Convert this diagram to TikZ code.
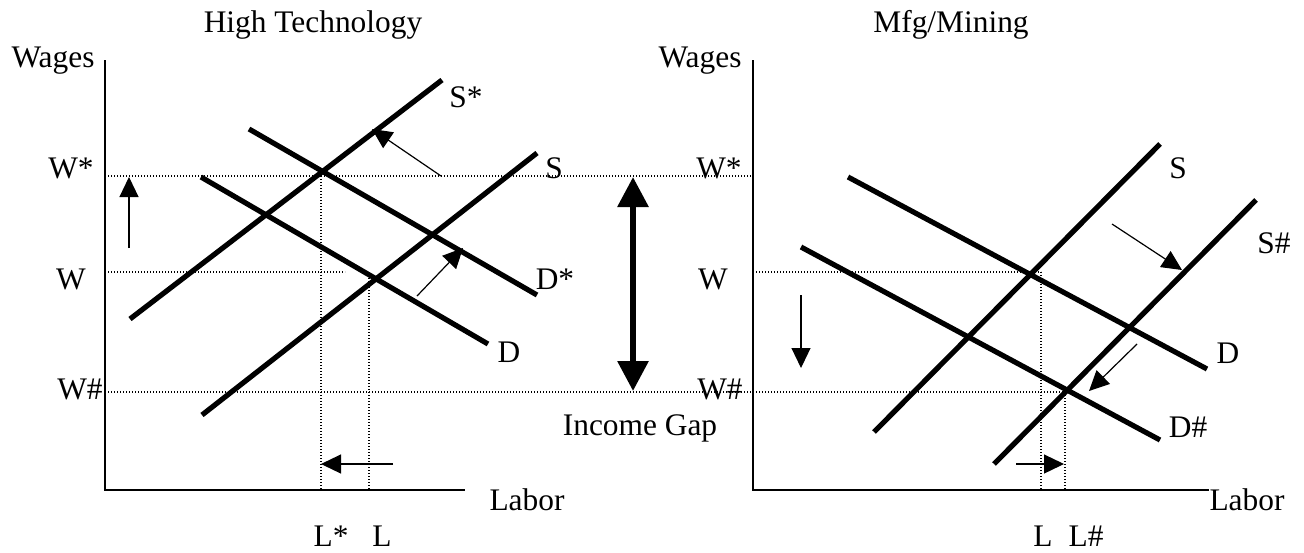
\documentclass[tikz,border=0pt]{standalone}
\usepackage{fontspec}
\setmainfont{Liberation Serif}
\usetikzlibrary{arrows.meta}
\begin{document}
\begin{tikzpicture}[x=0.5pt,y=-0.5pt,
  lbl/.style={font=\fontsize{15.7}{18}\selectfont, inner sep=0pt, anchor=base},
  axisline/.style={line width=1pt},
  curve/.style={line width=2.6pt},
  guide/.style={line width=0.7pt, dash pattern=on 0.7pt off 0.8pt},
  shiftarrow/.style={line width=0.6pt, -{Triangle[length=10pt,width=9.5pt]}},
  gaparrow/.style={line width=3pt, {Triangle[length=15pt,width=15pt]}-{Triangle[length=15pt,width=15pt]}}]
\useasboundingbox (0,0) rectangle (1304,552);

% ---------- Left panel: High Technology ----------
\coordinate (LyTop) at (105,60);
\coordinate (LO) at (105,490);
\coordinate (LxEnd) at (465,490);
% guides
\coordinate (gWsA) at (105,176); \coordinate (gWsB) at (753,176);
\coordinate (gWA) at (105,272);  \coordinate (gWB) at (345,272);
\coordinate (gWhA) at (105,392); \coordinate (gWhB) at (753,392);
\coordinate (gLsA) at (321,176); \coordinate (gLsB) at (321,490);
\coordinate (gLA) at (369,272);  \coordinate (gLB) at (369,490);
\draw[guide] (gWsA) -- (gWsB);
\draw[guide] (gWA) -- (gWB);
\draw[guide] (gWhA) -- (gWhB);
\draw[guide] (gLsA) -- (gLsB);
\draw[guide] (gLA) -- (gLB);
\draw[axisline] (LyTop) -- (LO) -- (LxEnd);
% curves
\coordinate (SsA) at (130,319); \coordinate (SsB) at (442,80);
\coordinate (SA) at (202,415);  \coordinate (SB) at (537,153);
\coordinate (DsA) at (249,129); \coordinate (DsB) at (537,295);
\coordinate (DA) at (201,177);  \coordinate (DB) at (488,344);
\draw[curve] (SsA) -- (SsB);
\draw[curve] (SA) -- (SB);
\draw[curve] (DsA) -- (DsB);
\draw[curve] (DA) -- (DB);
% shift arrows
\coordinate (upA) at (129,248); \coordinate (upB) at (129,177);
\coordinate (lfA) at (393,464); \coordinate (lfB) at (321,464);
\coordinate (ssA) at (441,176); \coordinate (ssB) at (372,129);
\coordinate (ddA) at (417,296); \coordinate (ddB) at (463,248);
\draw[shiftarrow] (upA) -- (upB);
\draw[shiftarrow] (lfA) -- (lfB);
\draw[shiftarrow] (ssA) -- (ssB);
\draw[shiftarrow] (ddA) -- (ddB);
% labels
\node[lbl] (t1) at (313,32) {High Technology};
\node[lbl] (wg1) at (53,67) {Wages};
\node[lbl] (ws1) at (71,178) {W*};
\node[lbl] (w1) at (71,289) {W};
\node[lbl] (wh1) at (80,399) {W\#};
\node[lbl] (ls1) at (331,546) {L*};
\node[lbl] (l1) at (382,546) {L};
\node[lbl] (lab1) at (527,510) {Labor};
\node[lbl] (Ssl) at (466,107) {S*};
\node[lbl] (Sl) at (554,178) {S};
\node[lbl] (Dsl) at (555,289) {D*};
\node[lbl] (Dl) at (509,362) {D};

% ---------- Income gap ----------
\coordinate (gapA) at (633,177); \coordinate (gapB) at (633,391);
\draw[gaparrow] (gapA) -- (gapB);
\node[lbl] (gap) at (640,435) {Income Gap};

% ---------- Right panel: Mfg/Mining ----------
\coordinate (RyTop) at (753,60);
\coordinate (RO) at (753,490);
\coordinate (RxEnd) at (1209,490);
\coordinate (rWA) at (753,272);  \coordinate (rWB) at (1041,272);
\coordinate (rWhA) at (753,392); \coordinate (rWhB) at (1064,392);
\coordinate (rLA) at (1041,272); \coordinate (rLB) at (1041,490);
\coordinate (rLhA) at (1065,392); \coordinate (rLhB) at (1065,490);
\draw[guide] (rWA) -- (rWB);
\draw[guide] (rWhA) -- (rWhB);
\draw[guide] (rLA) -- (rLB);
\draw[guide] (rLhA) -- (rLhB);
\draw[axisline] (RyTop) -- (RO) -- (RxEnd);
% curves
\coordinate (rDA) at (848,177);  \coordinate (rDB) at (1207,369);
\coordinate (rDhA) at (801,247); \coordinate (rDhB) at (1160,440);
\coordinate (rSA) at (874,432);  \coordinate (rSB) at (1160,144);
\coordinate (rShA) at (994,464); \coordinate (rShB) at (1256,200);
\draw[curve] (rDA) -- (rDB);
\draw[curve] (rDhA) -- (rDhB);
\draw[curve] (rSA) -- (rSB);
\draw[curve] (rShA) -- (rShB);
% shift arrows
\coordinate (dnA) at (801,295); \coordinate (dnB) at (801,368);
\coordinate (rtA) at (1016,464); \coordinate (rtB) at (1064,464);
\coordinate (rsA) at (1112,224); \coordinate (rsB) at (1182,270);
\coordinate (rdA) at (1137,344); \coordinate (rdB) at (1089,391);
\draw[shiftarrow] (dnA) -- (dnB);
\draw[shiftarrow] (rtA) -- (rtB);
\draw[shiftarrow] (rsA) -- (rsB);
\draw[shiftarrow] (rdA) -- (rdB);
% labels
\node[lbl] (t2) at (951,32) {Mfg/Mining};
\node[lbl] (wg2) at (700,67) {Wages};
\node[lbl] (ws2) at (719,178) {W*};
\node[lbl] (w2) at (713,289) {W};
\node[lbl] (wh2) at (720,399) {W\#};
\node[lbl] (l2) at (1043,546) {L};
\node[lbl] (lh2) at (1086,546) {L\#};
\node[lbl] (lab2) at (1247,510) {Labor};
\node[lbl] (rSl) at (1178,178) {S};
\node[lbl] (rShl) at (1274,253) {S\#};
\node[lbl] (rDl) at (1228,363) {D};
\node[lbl] (rDhl) at (1188,437) {D\#};
\end{tikzpicture}
\end{document}
